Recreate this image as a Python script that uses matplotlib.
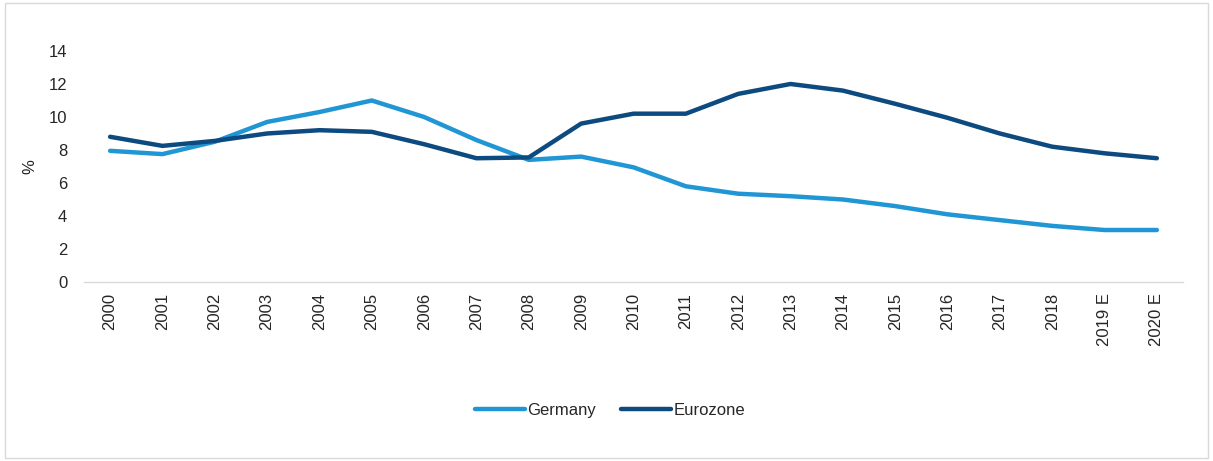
import matplotlib.pyplot as plt
from matplotlib.patches import Rectangle

years = ['2000', '2001', '2002', '2003', '2004', '2005', '2006', '2007', '2008', '2009',
         '2010', '2011', '2012', '2013', '2014', '2015', '2016', '2017', '2018', '2019 E', '2020 E']
germany = [7.95, 7.75, 8.5, 9.7, 10.3, 11.0, 10.0, 8.6, 7.4, 7.6,
           6.95, 5.8, 5.35, 5.2, 5.0, 4.6, 4.1, 3.75, 3.4, 3.15, 3.15]
eurozone = [8.8, 8.25, 8.55, 9.0, 9.2, 9.1, 8.35, 7.5, 7.55, 9.6,
            10.2, 10.2, 11.4, 12.0, 11.6, 10.8, 9.95, 9.0, 8.2, 7.8, 7.5]

plt.rcParams['font.family'] = ['Liberation Sans', 'DejaVu Sans']

fig = plt.figure(figsize=(12.13, 4.61), dpi=100)
ax = fig.add_axes([0.0692, 0.3883, 0.9061, 0.5011])

x = list(range(len(years)))
ax.plot(x, germany, color='#2196d4', lw=3.2, solid_capstyle='round', label='Germany')
ax.plot(x, eurozone, color='#0d4a80', lw=3.2, solid_capstyle='round', label='Eurozone')

ax.set_xlim(-0.5, len(years) - 0.5)
ax.set_ylim(0, 14)
ax.set_yticks(range(0, 15, 2))
ax.set_xticks(x)
ax.set_xticklabels(years, rotation=90, fontsize=12, color='#262626')
ax.tick_params(axis='y', labelsize=12, labelcolor='#262626', length=0, pad=12)
ax.tick_params(axis='x', length=0, pad=8)

for s in ['top', 'right', 'left']:
    ax.spines[s].set_visible(False)
ax.spines['bottom'].set_color('#d9d9d9')
ax.spines['bottom'].set_linewidth(1)

ax.set_ylabel('%', fontsize=12, color='#262626')
ax.yaxis.set_label_coords(-0.042, 0.5)

leg = fig.legend(loc='center', bbox_to_anchor=(0.503, 0.11), ncol=2, frameon=False,
                 fontsize=12, handlelength=3.0, handletextpad=0.15, columnspacing=1.5)
for t in leg.get_texts():
    t.set_color('#262626')

fig.patches.append(Rectangle((0.004, 0.006), 0.992, 0.988, transform=fig.transFigure,
                             fill=False, edgecolor='#d9d9d9', lw=1))

fig.savefig('out.png', dpi=100)
